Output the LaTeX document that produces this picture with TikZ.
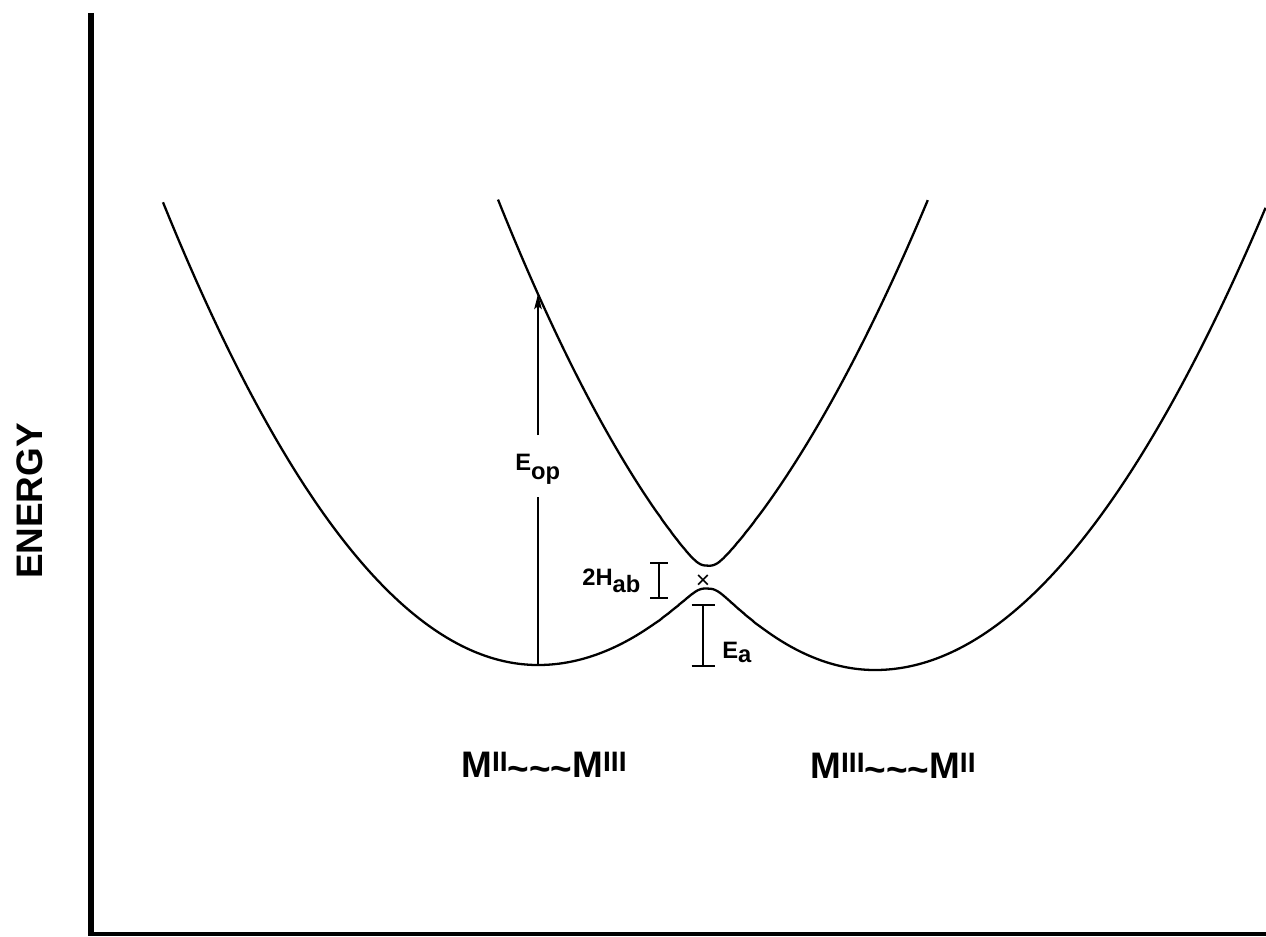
\documentclass[tikz,border=0pt]{standalone}
\usepackage{fontspec}
\setmainfont{Liberation Sans}
\usetikzlibrary{arrows.meta}
\newcommand\supr[1]{\raisebox{0.15em}{\fontsize{16}{16}\selectfont #1}}
\newcommand\wavy{\raisebox{-0.12em}{\textasciitilde\textasciitilde\textasciitilde}}
\newcommand\dnsub[2]{\raisebox{-#1}{#2}}

\begin{document}
\begin{tikzpicture}[x=2cm, y=2cm,
  axis/.style={line width=3.2pt},
  curve/.style={line width=1.3pt},
  bar/.style={line width=1.3pt},
  arr/.style={line width=1.1pt},
  big/.style={font=\fontsize{21}{24}\selectfont\bfseries, inner sep=0pt},
  lbl/.style={font=\fontsize{13.5}{16}\selectfont\bfseries, inner sep=0pt},
  declare function={
    ul(\x)=2.71+((\x<5.38) ? 0.329 : 0.306)*(\x-5.38)^2;
    ur(\x)=2.66+((\x<8.75) ? 0.331 : 0.303)*(\x-8.75)^2;
    sp(\x)=(abs((ul(\x)-ur(\x))/2)^3+0.115^3)^(1/3);
    lo(\x)=(ul(\x)+ur(\x))/2-sp(\x);
    up(\x)=(ul(\x)+ur(\x))/2+sp(\x);
  }
]
\useasboundingbox (0,0) rectangle (12.66,9.36);

% axes
\coordinate (ytop) at (0.91,9.23);
\coordinate (ybot) at (0.91,0);
\coordinate (o) at (0.91,0.023);
\coordinate (xend) at (12.66,0.023);
\draw[axis] (ytop) -- (ybot);
\draw[line width=2.3pt] (o) -- (xend);
\node[big, rotate=90] (elab) at (0.30,4.35) {ENERGY};

% surfaces
\draw[curve] plot[domain=1.63:12.66, samples=500] (\x,{lo(\x)});
\draw[curve] plot[domain=4.98:9.28, samples=300] (\x,{up(\x)});

% optical transition
\coordinate (gs) at (5.38,{lo(5.38)});
\coordinate (ex) at (5.38,{up(5.38)});
\coordinate (g1) at (5.38,4.39);
\coordinate (g2) at (5.38,5.01);
\draw[arr] (gs) -- (g1);
\draw[arr, -{Stealth[length=3mm, width=1.5mm, inset=0.6mm]}] (g2) -- (ex);
\node[lbl, anchor=base west] (eop) at (5.15,4.66) {E\dnsub{5.5pt}{op}};

% splitting and barrier
\coordinate (h1) at (6.59,3.73);
\coordinate (h2) at (6.59,3.38);
\draw[bar] ([xshift=-0.18cm]h1) -- ([xshift=0.18cm]h1) (h1) -- (h2)
  ([xshift=-0.18cm]h2) -- ([xshift=0.18cm]h2);
\node[lbl, anchor=base west] (hab) at (5.82,3.51) {2H\dnsub{4pt}{ab}};
\node[font=\fontsize{14}{14}\selectfont, inner sep=0pt] (cross) at (7.03,3.54) {×};

\coordinate (a1) at (7.03,3.31);
\coordinate (a2) at (7.03,2.70);
\draw[bar] ([xshift=-0.23cm]a1) -- ([xshift=0.23cm]a1) (a1) -- (a2)
  ([xshift=-0.23cm]a2) -- ([xshift=0.23cm]a2);
\node[lbl, anchor=base west] (ea) at (7.22,2.78) {E\dnsub{2.5pt}{a}};

% states
\node[big, anchor=base] (lstate) at (5.44,1.59) {M\supr{II}\wavy M\supr{III}};
\node[big, anchor=base] (rstate) at (8.93,1.58) {M\supr{III}\wavy M\supr{II}};
\end{tikzpicture}
\end{document}
